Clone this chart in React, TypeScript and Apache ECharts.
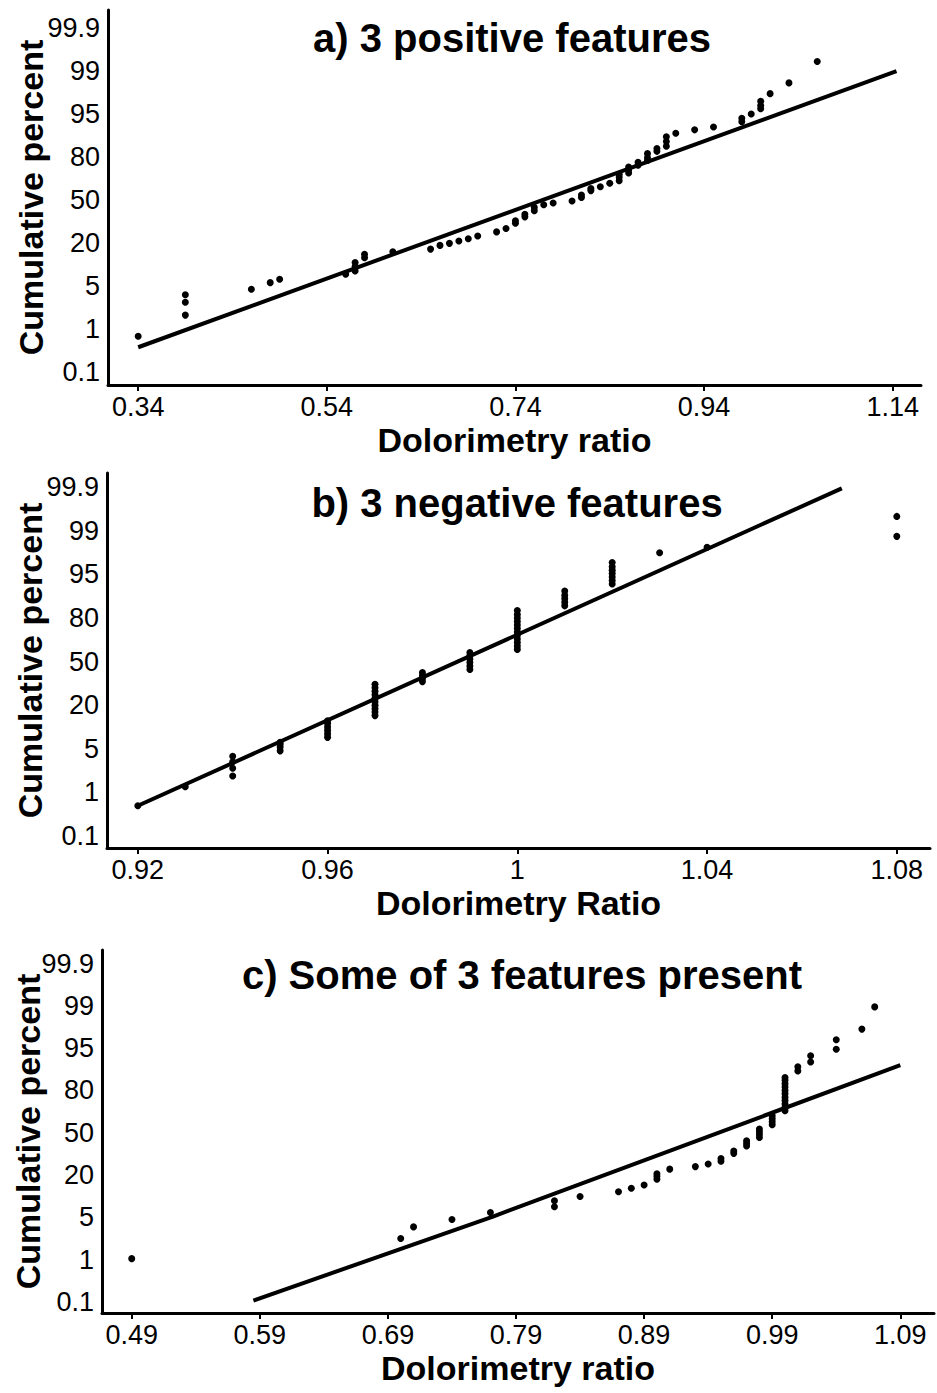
import React, { useEffect, useRef } from "react";
import * as echarts from "echarts";

// ---- Data -----------------------------------------------------------------
const PCT_TICKS = [0.1, 1, 5, 20, 50, 80, 95, 99, 99.9];
const PCT_LABELS = ["0.1", "1", "5", "20", "50", "80", "95", "99", "99.9"];

const TITLE_A = "a) 3 positive features";
const TITLE_B = "b) 3 negative features";
const TITLE_C = "c) Some of 3 features present";
const XNAME_A = "Dolorimetry ratio";
const XNAME_B = "Dolorimetry Ratio";
const XNAME_C = "Dolorimetry ratio";
const YNAME = "Cumulative percent";

const XTICKS_A = [0.34, 0.54, 0.74, 0.94, 1.14];
const XTICKS_B = [0.92, 0.96, 1, 1.04, 1.08];
const XTICKS_C = [0.49, 0.59, 0.69, 0.79, 0.89, 0.99, 1.09];

// [dolorimetry ratio, cumulative percent]
const POINTS_A: [number, number][] = [
  [0.34, 0.85],
  [0.39, 2.3], [0.39, 3.5], [0.39, 4.2],
  [0.46, 4.7], [0.48, 6.2], [0.49, 7.4],
  [0.56, 9.1],
  [0.57, 10.3], [0.57, 11.8], [0.57, 13.2],
  [0.58, 14.9], [0.58, 16.1],
  [0.61, 17.0], [0.65, 17.9], [0.66, 19.2], [0.67, 19.9], [0.68, 21.5],
  [0.69, 23.0], [0.70, 25.0], [0.72, 27.8], [0.73, 30.2],
  [0.74, 33.8], [0.74, 35.6],
  [0.75, 38.3], [0.75, 40.1],
  [0.76, 42.5], [0.76, 44.9],
  [0.77, 46.8], [0.78, 48.0], [0.80, 49.4],
  [0.81, 51.8], [0.81, 53.6],
  [0.82, 56.6], [0.82, 58.1],
  [0.83, 59.3], [0.84, 61.7],
  [0.85, 63.5], [0.85, 65.9], [0.85, 68.0],
  [0.86, 68.9], [0.86, 71.0], [0.86, 73.1],
  [0.87, 74.3], [0.87, 76.4],
  [0.88, 77.6], [0.88, 79.5], [0.88, 81.2],
  [0.89, 82.0], [0.89, 83.0],
  [0.90, 83.8], [0.90, 85.4], [0.90, 87.1],
  [0.91, 88.3], [0.93, 89.5], [0.95, 90.5],
  [0.98, 92.3], [0.98, 93.5],
  [0.99, 95.0],
  [1.00, 95.5], [1.00, 95.8], [1.00, 96.2],
  [1.01, 96.9], [1.03, 97.9], [1.06, 99.2],
];
const FIT_A: [number, number][] = [[0.34, 0.62], [1.144, 99.0]];

const POINTS_B: [number, number][] = [
  [0.92, 0.72],
  [0.93, 1.5],
  [0.94, 2.5], [0.94, 3.2], [0.94, 3.8], [0.94, 4.3],
  [0.95, 4.8], [0.95, 5.6], [0.95, 6.5], [0.95, 7.2],
  [0.96, 8.9], [0.96, 10.1], [0.96, 11.3], [0.96, 12.5], [0.96, 13.7], [0.96, 14.6],
  [0.97, 16.4], [0.97, 17.6], [0.97, 18.8], [0.97, 20.0], [0.97, 22.4],
  [0.97, 24.8], [0.97, 27.2], [0.97, 29.6], [0.97, 32.0], [0.97, 34.4],
  [0.98, 36.2], [0.98, 38.3], [0.98, 40.4], [0.98, 42.5],
  [0.99, 44.6], [0.99, 47.0], [0.99, 49.4], [0.99, 51.8], [0.99, 54.2], [0.99, 56.3],
  [1.00, 58.4], [1.00, 60.8], [1.00, 63.2], [1.00, 65.6], [1.00, 68.0], [1.00, 70.4],
  [1.00, 72.8], [1.00, 75.2], [1.00, 77.6], [1.00, 80.0], [1.00, 81.2], [1.00, 82.6],
  [1.01, 84.2], [1.01, 85.4], [1.01, 86.6], [1.01, 87.8], [1.01, 89.3],
  [1.02, 91.7], [1.02, 92.9], [1.02, 94.1], [1.02, 95.1], [1.02, 95.4], [1.02, 95.7], [1.02, 96.1],
  [1.03, 97.0],
  [1.04, 97.5],
  [1.08, 98.5], [1.08, 99.3],
];
const FIT_B: [number, number][] = [[0.92, 0.72], [1.0684, 99.88]];

const POINTS_C: [number, number][] = [
  [0.49, 1.1],
  [0.70, 3.0], [0.71, 4.1], [0.74, 4.8], [0.77, 6.7],
  [0.82, 8.8], [0.82, 10.9],
  [0.84, 12.4], [0.87, 14.1], [0.88, 15.3], [0.89, 16.5],
  [0.90, 18.5], [0.90, 19.6], [0.90, 20.9],
  [0.91, 24.2], [0.93, 26.0], [0.94, 27.8],
  [0.95, 29.8], [0.95, 31.8],
  [0.96, 35.4], [0.96, 37.0],
  [0.97, 40.7], [0.97, 42.5], [0.97, 44.3],
  [0.98, 46.7], [0.98, 48.7], [0.98, 50.7], [0.98, 52.7],
  [0.99, 55.7], [0.99, 57.8], [0.99, 59.9], [0.99, 62.0],
  [1.00, 65.6], [1.00, 68.0], [1.00, 70.4], [1.00, 72.8], [1.00, 75.2], [1.00, 77.6],
  [1.00, 80.0], [1.00, 81.2], [1.00, 82.4], [1.00, 83.6], [1.00, 84.6],
  [1.01, 86.9], [1.01, 88.4],
  [1.02, 90.1], [1.02, 92.3],
  [1.04, 94.6], [1.04, 95.8],
  [1.06, 96.8],
  [1.07, 98.9],
];
const FIT_C: [number, number][] = [[0.585, 0.13], [0.772, 5.3], [1.09, 89.0]];

// ---- Probability scale: evenly spaced tick labels ---------------------------
function pctToPos(p: number): number {
  for (let i = 0; i < PCT_TICKS.length - 1; i++) {
    if (p <= PCT_TICKS[i + 1] || i === PCT_TICKS.length - 2) {
      return i + (p - PCT_TICKS[i]) / (PCT_TICKS[i + 1] - PCT_TICKS[i]);
    }
  }
  return PCT_TICKS.length - 1;
}

const FONT = "'Liberation Sans', Arial, Helvetica, sans-serif";

const PANELS = [
  {
    title: TITLE_A, titleX: 512, titleTop: 18, xName: XNAME_A, xTicks: XTICKS_A,
    points: POINTS_A, fit: FIT_A, yNameGap: 60,
    grid: { left: 108, top: 10, right: 16, bottom: 1008 },
    xMin: 0.308, xMax: 1.17, yMin: -0.3, yMax: 8.42,
  },
  {
    title: TITLE_B, titleX: 517, titleTop: 483, xName: XNAME_B, xTicks: XTICKS_B,
    points: POINTS_B, fit: FIT_B, yNameGap: 60,
    grid: { left: 107, top: 473, right: 7, bottom: 545 },
    xMin: 0.9135, xMax: 1.087, yMin: -0.28, yMax: 8.33,
  },
  {
    title: TITLE_C, titleX: 522, titleTop: 955, xName: XNAME_C, xTicks: XTICKS_C,
    points: POINTS_C, fit: FIT_C, yNameGap: 57,
    grid: { left: 102, top: 950, right: 3, bottom: 80 },
    xMin: 0.4668, xMax: 1.1163, yMin: -0.26, yMax: 8.32,
  },
];

export default function App() {
  const ref = useRef<HTMLDivElement>(null);

  useEffect(() => {
    if (!ref.current) return;
    const chart = echarts.init(ref.current, undefined, { renderer: "svg" });
    const yTickPos = PCT_TICKS.map((_, i) => i);

    const option = {
      animation: false,
      backgroundColor: "#fff",
      textStyle: { fontFamily: FONT, color: "#000" },
      title: PANELS.map((p) => ({
        text: p.title,
        left: p.titleX,
        top: p.titleTop,
        textAlign: "center",
        padding: 0,
        textStyle: { fontSize: 40, fontWeight: "bold", color: "#000", fontFamily: FONT },
      })),
      grid: PANELS.map((p) => ({ ...p.grid, containLabel: false, outerBoundsMode: "none" })),
      xAxis: PANELS.map((p, i) => ({
        type: "value",
        gridIndex: i,
        min: p.xMin,
        max: p.xMax,
        name: p.xName,
        nameLocation: "middle",
        nameGap: 38,
        nameMoveOverlap: false,
        nameTextStyle: { fontSize: 34, fontWeight: "bold", color: "#000", fontFamily: FONT },
        axisLine: { show: true, onZero: false, lineStyle: { color: "#000", width: 3 } },
        axisTick: { show: true, customValues: p.xTicks, length: 6, lineStyle: { color: "#000", width: 2 } },
        axisLabel: {
          customValues: p.xTicks,
          formatter: (v: number) => String(v),
          fontSize: 27,
          color: "#000",
          margin: 8,
          fontFamily: FONT,
        },
        splitLine: { show: false },
      })),
      yAxis: PANELS.map((p, i) => ({
        type: "value",
        gridIndex: i,
        min: p.yMin,
        max: p.yMax,
        name: YNAME,
        nameLocation: "middle",
        nameRotate: 90,
        nameGap: p.yNameGap,
        nameMoveOverlap: false,
        nameTextStyle: { fontSize: 34, fontWeight: "bold", color: "#000", fontFamily: FONT },
        axisLine: { show: true, onZero: false, lineStyle: { color: "#000", width: 3 } },
        axisTick: { show: false },
        axisLabel: {
          customValues: yTickPos,
          formatter: (v: number) => PCT_LABELS[Math.round(v)] ?? "",
          fontSize: 27,
          color: "#000",
          margin: 8,
          fontFamily: FONT,
        },
        splitLine: { show: false },
      })),
      series: PANELS.flatMap((p, i) => [
        {
          type: "line",
          xAxisIndex: i,
          yAxisIndex: i,
          data: p.fit.map(([x, v]) => [x, pctToPos(v)]),
          showSymbol: false,
          symbol: "none",
          lineStyle: { color: "#000", width: 4 },
          z: 2,
          silent: true,
        },
        {
          type: "scatter",
          xAxisIndex: i,
          yAxisIndex: i,
          data: p.points.map(([x, v]) => [x, pctToPos(v)]),
          symbol: "circle",
          symbolSize: 7,
          itemStyle: { color: "#000", opacity: 1 },
          z: 3,
          silent: true,
        },
      ]),
    };

    chart.setOption(option as any);
    return () => chart.dispose();
  }, []);

  return (
    <div
      ref={ref}
      style={{ position: "absolute", left: 0, top: 0, width: 937, height: 1393, background: "#fff" }}
    />
  );
}
